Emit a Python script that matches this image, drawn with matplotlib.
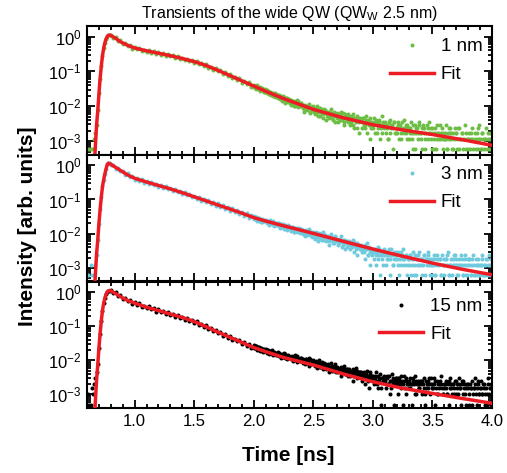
import matplotlib.pyplot as plt
import numpy as np
from matplotlib.ticker import LogLocator, MultipleLocator, NullFormatter

plt.rcParams['font.family'] = ['Liberation Sans', 'DejaVu Sans']
plt.rcParams['mathtext.default'] = 'regular'

# time bins [ns], shared by the three transients
t_rise = [0.60, 0.61, 0.62, 0.63, 0.64, 0.65, 0.66, 0.67, 0.68, 0.69,
          0.70, 0.71, 0.72, 0.73, 0.74, 0.75, 0.76, 0.77, 0.78, 0.79]
t_decay = [0.80, 0.82, 0.84, 0.86, 0.88, 0.90, 0.92, 0.94, 0.96, 0.98,
           1.00, 1.02, 1.04, 1.06, 1.08, 1.10, 1.12, 1.14, 1.16, 1.18,
           1.20, 1.22, 1.24, 1.26, 1.28, 1.30, 1.32, 1.34, 1.36, 1.38,
           1.40, 1.42, 1.44, 1.46, 1.48, 1.50, 1.52, 1.54, 1.56, 1.58,
           1.60, 1.62, 1.64, 1.66, 1.68, 1.70, 1.72, 1.74, 1.76, 1.78,
           1.80, 1.82, 1.84, 1.86, 1.88, 1.90, 1.92, 1.94, 1.96, 1.98]
t_tail = [2.00, 2.01, 2.02, 2.03, 2.04, 2.05, 2.06, 2.07, 2.08, 2.09,
          2.10, 2.11, 2.12, 2.13, 2.14, 2.15, 2.16, 2.17, 2.18, 2.19,
          2.20, 2.21, 2.22, 2.23, 2.24, 2.25, 2.26, 2.27, 2.28, 2.29,
          2.30, 2.31, 2.32, 2.33, 2.34, 2.35, 2.36, 2.37, 2.38, 2.39,
          2.40, 2.41, 2.42, 2.43, 2.44, 2.45, 2.46, 2.47, 2.48, 2.49,
          2.50, 2.51, 2.52, 2.53, 2.54, 2.55, 2.56, 2.57, 2.58, 2.59,
          2.60, 2.61, 2.62, 2.63, 2.64, 2.65, 2.66, 2.67, 2.68, 2.69,
          2.70, 2.71, 2.72, 2.73, 2.74, 2.75, 2.76, 2.77, 2.78, 2.79,
          2.80, 2.81, 2.82, 2.83, 2.84, 2.85, 2.86, 2.87, 2.88, 2.89,
          2.90, 2.91, 2.92, 2.93, 2.94, 2.95, 2.96, 2.97, 2.98, 2.99,
          3.00, 3.01, 3.02, 3.03, 3.04, 3.05, 3.06, 3.07, 3.08, 3.09,
          3.10, 3.11, 3.12, 3.13, 3.14, 3.15, 3.16, 3.17, 3.18, 3.19,
          3.20, 3.21, 3.22, 3.23, 3.24, 3.25, 3.26, 3.27, 3.28, 3.29,
          3.30, 3.31, 3.32, 3.33, 3.34, 3.35, 3.36, 3.37, 3.38, 3.39,
          3.40, 3.41, 3.42, 3.43, 3.44, 3.45, 3.46, 3.47, 3.48, 3.49,
          3.50, 3.51, 3.52, 3.53, 3.54, 3.55, 3.56, 3.57, 3.58, 3.59,
          3.60, 3.61, 3.62, 3.63, 3.64, 3.65, 3.66, 3.67, 3.68, 3.69,
          3.70, 3.71, 3.72, 3.73, 3.74, 3.75, 3.76, 3.77, 3.78, 3.79,
          3.80, 3.81, 3.82, 3.83, 3.84, 3.85, 3.86, 3.87, 3.88, 3.89,
          3.90, 3.91, 3.92, 3.93, 3.94, 3.95, 3.96, 3.97, 3.98, 3.99]
t_tail_half = [2.005, 2.015, 2.025, 2.035, 2.045, 2.055, 2.065, 2.075, 2.085, 2.095,
               2.105, 2.115, 2.125, 2.135, 2.145, 2.155, 2.165, 2.175, 2.185, 2.195,
               2.205, 2.215, 2.225, 2.235, 2.245, 2.255, 2.265, 2.275, 2.285, 2.295,
               2.305, 2.315, 2.325, 2.335, 2.345, 2.355, 2.365, 2.375, 2.385, 2.395,
               2.405, 2.415, 2.425, 2.435, 2.445, 2.455, 2.465, 2.475, 2.485, 2.495,
               2.505, 2.515, 2.525, 2.535, 2.545, 2.555, 2.565, 2.575, 2.585, 2.595,
               2.605, 2.615, 2.625, 2.635, 2.645, 2.655, 2.665, 2.675, 2.685, 2.695,
               2.705, 2.715, 2.725, 2.735, 2.745, 2.755, 2.765, 2.775, 2.785, 2.795,
               2.805, 2.815, 2.825, 2.835, 2.845, 2.855, 2.865, 2.875, 2.885, 2.895,
               2.905, 2.915, 2.925, 2.935, 2.945, 2.955, 2.965, 2.975, 2.985, 2.995,
               3.005, 3.015, 3.025, 3.035, 3.045, 3.055, 3.065, 3.075, 3.085, 3.095,
               3.105, 3.115, 3.125, 3.135, 3.145, 3.155, 3.165, 3.175, 3.185, 3.195,
               3.205, 3.215, 3.225, 3.235, 3.245, 3.255, 3.265, 3.275, 3.285, 3.295,
               3.305, 3.315, 3.325, 3.335, 3.345, 3.355, 3.365, 3.375, 3.385, 3.395,
               3.405, 3.415, 3.425, 3.435, 3.445, 3.455, 3.465, 3.475, 3.485, 3.495,
               3.505, 3.515, 3.525, 3.535, 3.545, 3.555, 3.565, 3.575, 3.585, 3.595,
               3.605, 3.615, 3.625, 3.635, 3.645, 3.655, 3.665, 3.675, 3.685, 3.695,
               3.705, 3.715, 3.725, 3.735, 3.745, 3.755, 3.765, 3.775, 3.785, 3.795,
               3.805, 3.815, 3.825, 3.835, 3.845, 3.855, 3.865, 3.875, 3.885, 3.895,
               3.905, 3.915, 3.925, 3.935, 3.945, 3.955, 3.965, 3.975, 3.985, 3.995]

# photon counts per bin, 1 nm barrier
counts_1nm_rise = [1, 0, 1, 1, 0, 1, 2, 3, 5, 13,
                   40, 105, 240, 470, 790, 1120, 1450, 1700, 1870, 1910]
counts_1nm_decay = [1899, 1563, 1656, 1298, 1328, 1039, 1096, 909, 1000, 779,
                    853, 745, 815, 662, 722, 622, 713, 596, 649, 529,
                    616, 519, 561, 476, 546, 466, 495, 410, 477, 389,
                    419, 356, 401, 338, 366, 295, 340, 278, 295, 247,
                    279, 221, 237, 191, 213, 175, 191, 144, 161, 129,
                    147, 109, 121, 99, 109, 81, 94, 73, 84, 63]
counts_1nm_tail = [71, 58, 66, 60, 52, 61, 49, 57, 50, 44,
                   49, 41, 47, 38, 44, 35, 41, 37, 32, 39,
                   30, 36, 28, 34, 25, 31, 22, 29, 27, 24,
                   27, 19, 25, 21, 17, 23, 26, 16, 20, 18,
                   21, 15, 12, 19, 17, 14, 20, 11, 16, 13,
                   16, 10, 13, 18, 9, 12, 15, 11, 8, 14,
                   13, 7, 10, 12, 9, 14, 8, 11, 6, 10,
                   11, 6, 9, 12, 7, 8, 5, 10, 9, 6,
                   9, 5, 8, 10, 4, 7, 6, 9, 3, 8,
                   7, 4, 8, 5, 9, 3, 6, 7, 2, 6,
                   5, 8, 3, 6, 4, 7, 2, 5, 9, 4,
                   6, 3, 5, 2, 7, 4, 5, 1, 6, 3,
                   4, 6, 2, 5, 3, 0, 7, 4, 3, 5,
                   2, 4, 6, 3, 1, 5, 3, 4, 2, 6,
                   3, 1, 5, 4, 2, 0, 4, 6, 3, 2,
                   4, 2, 3, 1, 5, 3, 0, 2, 4, 3,
                   2, 5, 1, 3, 2, 4, 3, 1, 0, 4,
                   3, 1, 4, 2, 0, 3, 2, 5, 1, 2,
                   1, 3, 2, 4, 1, 0, 2, 3, 1, 5,
                   2, 1, 3, 0, 2, 4, 1, 2, 3, 1]
counts_1nm_tail_half = [62, 55, 68, 53, 59, 47, 54, 51, 45, 53,
                        45, 50, 39, 43, 36, 42, 34, 40, 36, 33,
                        35, 29, 32, 27, 33, 24, 28, 30, 23, 26,
                        22, 26, 20, 24, 18, 22, 19, 24, 17, 21,
                        17, 19, 14, 18, 13, 16, 18, 12, 15, 17,
                        12, 15, 11, 14, 13, 9, 14, 12, 10, 13,
                        11, 9, 12, 8, 11, 10, 7, 12, 9, 8,
                        8, 10, 7, 9, 11, 6, 8, 9, 7, 10,
                        7, 6, 9, 5, 8, 7, 4, 8, 6, 7,
                        6, 8, 5, 4, 7, 6, 5, 8, 4, 5,
                        4, 6, 7, 3, 5, 6, 4, 3, 6, 5,
                        5, 4, 2, 6, 3, 5, 4, 6, 3, 4,
                        3, 5, 4, 2, 6, 4, 3, 5, 2, 4,
                        4, 3, 2, 5, 3, 1, 4, 3, 5, 3,
                        2, 4, 3, 1, 3, 5, 2, 3, 4, 1,
                        3, 1, 4, 2, 3, 2, 5, 3, 1, 2,
                        3, 2, 1, 4, 3, 2, 1, 3, 2, 3,
                        2, 4, 1, 2, 3, 1, 2, 0, 3, 2,
                        2, 1, 3, 2, 0, 3, 1, 2, 4, 2,
                        1, 3, 2, 1, 2, 0, 3, 1, 2, 2]

# photon counts per bin, 3 nm barrier
counts_3nm_rise = [1, 1, 0, 2, 1, 0, 1, 2, 4, 11,
                   31, 86, 190, 405, 620, 945, 1290, 1760, 1890, 1880]
counts_3nm_decay = [1691, 1715, 1330, 1420, 1105, 1128, 875, 958, 751, 807,
                    623, 704, 588, 653, 520, 564, 467, 534, 445, 483,
                    393, 431, 350, 405, 334, 363, 293, 337, 271, 294,
                    242, 271, 221, 241, 190, 213, 175, 196, 154, 173,
                    139, 156, 126, 137, 109, 127, 100, 114, 86, 99,
                    78, 92, 71, 81, 62, 73, 56, 66, 49, 57]
counts_3nm_tail = [54, 44, 50, 39, 47, 42, 36, 45, 41, 38,
                   43, 35, 37, 30, 41, 33, 36, 28, 34, 31,
                   35, 27, 24, 32, 29, 22, 30, 26, 21, 28,
                   27, 20, 23, 26, 18, 24, 19, 22, 25, 17,
                   22, 16, 19, 14, 21, 17, 23, 15, 18, 13,
                   19, 12, 16, 14, 10, 17, 15, 11, 18, 13,
                   15, 10, 13, 8, 12, 16, 11, 9, 14, 10,
                   12, 8, 10, 14, 7, 9, 11, 6, 10, 8,
                   10, 6, 8, 11, 5, 9, 7, 4, 8, 6,
                   8, 5, 7, 3, 6, 9, 4, 6, 2, 5,
                   6, 3, 5, 2, 7, 4, 1, 5, 3, 6,
                   4, 2, 5, 3, 1, 6, 4, 2, 3, 5,
                   3, 5, 1, 4, 2, 6, 3, 0, 4, 2,
                   2, 4, 1, 3, 5, 2, 1, 3, 4, 2,
                   3, 1, 2, 4, 0, 3, 5, 2, 1, 3,
                   2, 4, 1, 3, 2, 0, 3, 1, 4, 2,
                   1, 3, 2, 5, 1, 2, 0, 3, 2, 4,
                   3, 1, 2, 0, 4, 2, 1, 3, 2, 1,
                   2, 3, 1, 2, 4, 1, 0, 2, 3, 1,
                   1, 2, 4, 1, 2, 3, 1, 0, 2, 3]
counts_3nm_tail_half = [46, 51, 42, 48, 40, 44, 37, 43, 39, 41,
                        38, 40, 33, 37, 34, 31, 38, 30, 33, 29,
                        30, 33, 26, 29, 31, 25, 27, 24, 29, 25,
                        24, 22, 26, 19, 23, 21, 25, 20, 18, 22,
                        19, 21, 17, 20, 15, 18, 16, 19, 14, 17,
                        16, 14, 18, 13, 15, 12, 16, 14, 11, 15,
                        13, 12, 14, 10, 13, 11, 9, 12, 13, 10,
                        11, 9, 12, 10, 8, 11, 9, 10, 7, 9,
                        8, 9, 7, 10, 8, 6, 9, 7, 8, 6,
                        7, 6, 5, 8, 6, 4, 7, 5, 6, 4,
                        5, 6, 4, 5, 3, 6, 4, 5, 2, 4,
                        5, 3, 4, 6, 3, 4, 2, 5, 4, 3,
                        4, 2, 3, 5, 4, 3, 2, 4, 1, 3,
                        3, 4, 2, 3, 1, 4, 3, 2, 5, 3,
                        2, 3, 4, 1, 3, 2, 4, 3, 2, 1,
                        3, 2, 1, 4, 3, 2, 3, 1, 2, 3,
                        2, 3, 4, 1, 2, 3, 1, 2, 4, 2,
                        2, 1, 3, 2, 3, 1, 2, 4, 1, 3,
                        3, 2, 1, 3, 2, 1, 3, 2, 1, 2,
                        2, 3, 1, 2, 1, 3, 2, 4, 1, 2]

# photon counts per bin, 15 nm barrier
counts_15nm_rise = [1, 2, 1, 1, 3, 2, 4, 6, 9, 16,
                    45, 120, 280, 560, 930, 1320, 1700, 1990, 2120, 2180]
counts_15nm_decay = [2208, 1817, 1926, 1527, 1579, 1225, 1285, 1058, 1163, 905,
                     992, 850, 913, 730, 780, 660, 746, 615, 661, 531,
                     609, 506, 540, 452, 511, 430, 454, 371, 429, 346,
                     370, 310, 343, 286, 305, 243, 275, 221, 230, 189,
                     210, 165, 175, 139, 153, 125, 137, 104, 114, 92,
                     105, 77, 86, 71, 78, 58, 68, 53, 60, 45]
counts_15nm_tail = [56, 45, 51, 41, 48, 38, 46, 43, 35, 44,
                    42, 33, 39, 30, 36, 41, 29, 35, 31, 28,
                    34, 26, 31, 23, 28, 32, 24, 27, 21, 29,
                    27, 21, 25, 19, 23, 28, 18, 24, 20, 22,
                    23, 17, 20, 15, 22, 18, 14, 21, 16, 19,
                    19, 14, 17, 12, 16, 20, 13, 15, 11, 17,
                    16, 11, 14, 9, 13, 17, 10, 12, 15, 9,
                    13, 9, 11, 7, 12, 10, 14, 8, 11, 7,
                    11, 7, 9, 5, 10, 8, 12, 6, 9, 7,
                    9, 5, 8, 4, 7, 10, 6, 3, 8, 6,
                    7, 4, 6, 9, 3, 5, 8, 1, 6, 5,
                    6, 3, 7, 4, 2, 5, 8, 4, 1, 6,
                    5, 2, 6, 4, 7, 1, 5, 3, 6, 4,
                    3, 6, 4, 1, 5, 7, 2, 4, 5, 3,
                    5, 2, 4, 6, 1, 3, 5, 4, 2, 6,
                    4, 6, 1, 3, 5, 2, 4, 7, 3, 2,
                    3, 5, 2, 4, 1, 6, 3, 4, 2, 5,
                    2, 4, 6, 3, 1, 4, 5, 2, 3, 4,
                    4, 1, 3, 5, 2, 3, 6, 1, 4, 2,
                    3, 5, 2, 4, 1, 3, 2, 6, 3, 1]
counts_15nm_tail_half = [47, 53, 42, 49, 40, 45, 37, 42, 39, 36,
                         37, 40, 32, 35, 38, 31, 34, 30, 33, 29,
                         29, 32, 27, 30, 25, 28, 31, 23, 27, 25,
                         25, 23, 27, 21, 24, 20, 26, 22, 19, 23,
                         20, 22, 18, 21, 17, 19, 23, 16, 18, 20,
                         17, 15, 19, 14, 17, 13, 16, 18, 14, 15,
                         14, 12, 15, 13, 11, 14, 12, 10, 13, 12,
                         12, 10, 11, 13, 9, 12, 10, 8, 11, 9,
                         9, 10, 8, 11, 7, 9, 10, 8, 7, 9,
                         8, 7, 9, 6, 8, 5, 7, 9, 6, 7,
                         6, 7, 5, 4, 7, 6, 3, 6, 5, 7,
                         5, 6, 4, 7, 5, 3, 6, 5, 4, 6,
                         4, 6, 5, 3, 5, 4, 7, 2, 5, 4,
                         5, 3, 4, 6, 4, 2, 5, 4, 3, 5,
                         4, 5, 3, 2, 5, 4, 3, 6, 4, 3,
                         3, 4, 5, 2, 4, 3, 5, 4, 2, 4,
                         4, 3, 2, 5, 3, 4, 2, 4, 3, 5,
                         3, 2, 4, 3, 5, 2, 3, 4, 1, 3,
                         2, 4, 3, 1, 3, 4, 2, 3, 5, 2,
                         3, 2, 4, 3, 2, 1, 4, 2, 3, 4]

# counts corresponding to intensity 1
norm_1nm = 1720
norm_3nm = 1660
norm_15nm = 2000

# fitted transients
t_fit = [0.660, 0.667, 0.68, 0.69, 0.70, 0.71, 0.72, 0.73, 0.74, 0.75,
         0.76, 0.77, 0.78, 0.79, 0.80, 0.84, 0.88, 0.94, 1.00, 1.10,
         1.20, 1.30, 1.40, 1.50, 1.60, 1.70, 1.80, 1.90, 2.00, 2.10,
         2.25, 2.50, 2.75, 3.00, 3.25, 3.50, 3.75, 4.00]
fit_1nm = [1.0e-4, 4.5e-4, 2.8e-3, 7.1e-3, 2.2e-2, 6.3e-2, 0.141, 0.282, 0.468, 0.661,
           0.851, 1.0, 1.08, 1.10, 1.07, 0.891, 0.708, 0.562, 0.468, 0.389,
           0.331, 0.282, 0.234, 0.191, 0.148, 0.107, 0.0759, 0.0537, 0.0380, 0.0269,
           0.0166, 0.00813, 0.00468, 0.00295, 0.00209, 0.00155, 0.00110, 0.00076]
fit_3nm = [1.0e-4, 4.0e-4, 2.5e-3, 6.3e-3, 2.0e-2, 5.0e-2, 0.117, 0.24, 0.38, 0.56,
           0.79, 1.05, 1.15, 1.12, 1.07, 0.87, 0.71, 0.525, 0.417, 0.324,
           0.257, 0.204, 0.158, 0.120, 0.091, 0.069, 0.0525, 0.0398, 0.0295, 0.0234,
           0.0170, 0.0102, 0.0060, 0.00355, 0.00219, 0.00138, 0.00091, 0.00063]
fit_15nm = [1.0e-4, 4.0e-4, 2.5e-3, 7.1e-3, 2.24e-2, 6.0e-2, 0.141, 0.282, 0.468, 0.661,
            0.851, 1.0, 1.07, 1.10, 1.07, 0.89, 0.724, 0.562, 0.468, 0.355,
            0.282, 0.224, 0.178, 0.135, 0.0955, 0.066, 0.0468, 0.0331, 0.0234, 0.0178,
            0.0120, 0.00724, 0.00398, 0.00234, 0.00151, 0.00107, 0.00076, 0.00055]

panels = [
    (counts_1nm_rise + counts_1nm_decay + counts_1nm_tail + counts_1nm_tail_half,
     norm_1nm, fit_1nm, '#6DBE45', '1 nm', 0.905),
    (counts_3nm_rise + counts_3nm_decay + counts_3nm_tail + counts_3nm_tail_half,
     norm_3nm, fit_3nm, '#6ECADC', '3 nm', 0.912),
    (counts_15nm_rise + counts_15nm_decay + counts_15nm_tail + counts_15nm_tail_half,
     norm_15nm, fit_15nm, 'black', '15 nm', 0.870),
]
t_data = np.array(t_rise + t_decay + t_tail + t_tail_half)

fig = plt.figure(figsize=(5.07, 4.73), dpi=100)
rects = [[0.1716, 0.6723, 0.7988, 0.2727],
         [0.1716, 0.4049, 0.7988, 0.2674],
         [0.1716, 0.1374, 0.7988, 0.2674]]

for i, (counts, norm, fit, color, label, leg_y) in enumerate(panels):
    ax = fig.add_axes(rects[i])
    c = np.array(counts, dtype=float)
    intensity = np.where(c > 0, c / norm, np.nan)
    ax.plot(t_data, intensity, 'o', ms=2.9, mec='none', color=color,
            label=label, zorder=2)
    ax.plot(t_fit, fit, '-', color='#ED1C24', lw=2.5, label='Fit', zorder=3)

    ax.set_yscale('log')
    ax.set_xlim(0.6, 4.0)
    ax.set_ylim(4e-4, 2.0)
    ax.xaxis.set_major_locator(MultipleLocator(0.5))
    ax.xaxis.set_minor_locator(MultipleLocator(0.1))
    ax.yaxis.set_major_locator(LogLocator(base=10, numticks=10))
    ax.yaxis.set_minor_locator(LogLocator(base=10, subs=np.arange(2, 10), numticks=10))
    ax.yaxis.set_minor_formatter(NullFormatter())
    ax.tick_params(which='both', direction='in', top=True, right=True,
                   width=1.3, labelsize=12, pad=4)
    ax.tick_params(which='major', length=5.5)
    ax.tick_params(which='minor', length=2.8)
    for s in ax.spines.values():
        s.set_linewidth(1.5)
    if i < 2:
        ax.tick_params(labelbottom=False)

    ax.legend(loc='upper right', bbox_to_anchor=(0.976, leg_y), frameon=False,
              fontsize=13.5, numpoints=1, handlelength=2.35, handletextpad=0.35,
              labelspacing=0.57, borderaxespad=0, borderpad=0)

fig.text(0.571, 0.9725, 'Transients of the wide QW (QW$_{W}$ 2.5 nm)',
         ha='center', va='center', fontsize=11.5)
fig.text(0.568, 0.037, 'Time [ns]', ha='center', va='center',
         fontsize=15, weight='bold')
fig.text(0.055, 0.522, 'Intensity [arb. units]', ha='center', va='center',
         rotation=90, fontsize=15, weight='bold')

fig.savefig('out.png', dpi=100)
